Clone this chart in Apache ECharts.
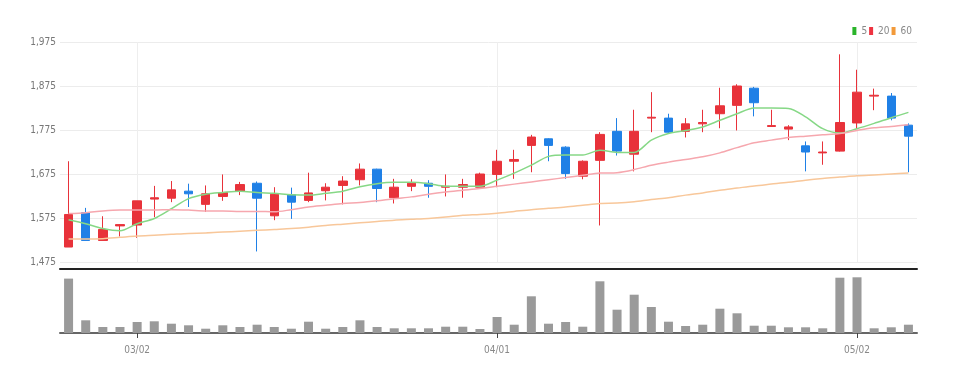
<!DOCTYPE html>
<html><head><meta charset="utf-8">
<script src="https://cdn.jsdelivr.net/npm/echarts@6/dist/echarts.min.js"></script>
<style>html,body{margin:0;padding:0;background:#fff}#c{width:954px;height:374px}</style>
</head><body><div id="c"></div>
<script>
const dates = ['02/23','02/24','02/25','02/28','03/02','03/03','03/04','03/07','03/08','03/10',
 '03/11','03/14','03/15','03/16','03/17','03/18','03/21','03/22','03/23','03/24',
 '03/25','03/28','03/29','03/30','03/31','04/01','04/04','04/05','04/06','04/07',
 '04/08','04/11','04/12','04/13','04/14','04/15','04/18','04/19','04/20','04/21',
 '04/22','04/25','04/26','04/27','04/28','04/29','05/02','05/03','05/04','05/06'];
const tickDates = ['03/02','04/01','05/02'];
// [open, close, low, high]
const ohlc = [
 [1509,1583,1509,1704],[1587,1524,1524,1598],[1524,1549,1524,1579],[1557,1560,1533,1561],[1559,1614,1530,1614],
 [1618,1621,1577,1648],[1620,1639,1611,1659],[1636,1630,1600,1653],[1606,1630,1589,1649],[1624,1633,1614,1674],
 [1636,1651,1627,1657],[1654,1620,1499,1658],[1580,1629,1570,1645],[1628,1611,1573,1644],[1615,1632,1611,1678],
 [1637,1645,1615,1654],[1649,1659,1606,1670],[1662,1686,1649,1699],[1686,1642,1611,1687],[1621,1645,1608,1664],
 [1647,1654,1636,1663],[1654,1647,1621,1661],[1645,1647,1624,1674],[1645,1651,1621,1664],[1645,1675,1645,1678],
 [1674,1704,1645,1730],[1704,1708,1664,1730],[1740,1759,1679,1764],[1755,1740,1704,1756],[1736,1676,1664,1738],
 [1670,1704,1663,1706],[1706,1765,1558,1770],[1772,1727,1717,1802],[1720,1772,1681,1821],[1802,1804,1770,1861],
 [1802,1770,1767,1812],[1772,1789,1758,1802],[1789,1792,1770,1821],[1812,1830,1779,1871],[1831,1875,1774,1879],
 [1870,1837,1806,1873],[1783,1785,1782,1821],[1777,1782,1752,1786],[1739,1725,1681,1749],[1723,1725,1696,1749],
 [1727,1792,1726,1947],[1791,1861,1778,1912],[1852,1854,1820,1869],[1852,1802,1797,1859],[1786,1761,1679,1790]
];
const ma5 = [1571,1562,1551,1546,1562,1574,1596,1619,1629,1633,1636,1633,1631,1628,1627,1631,1636,1646,1653,1656,
 1656,1653,1647,1647,1647,1661,1677,1695,1715,1718,1718,1729,1724,1724,1752,1767,1774,1782,1797,1812,
 1825,1825,1824,1805,1778,1768,1778,1790,1803,1815];
const ma20 = [1585,1587,1591,1593,1593,1593,1594,1593,1591,1591,1590,1590,1589,1594,1600,1604,1608,1610,1614,1619,
 1623,1629,1634,1638,1642,1647,1652,1657,1662,1667,1672,1677,1678,1685,1695,1702,1708,1714,1723,1735,
 1746,1752,1758,1761,1764,1767,1774,1780,1783,1787];
const ma60 = [1527,1527,1528,1531,1534,1536,1538,1540,1541,1543,1545,1547,1549,1551,1554,1558,1561,1564,1567,1570,
 1572,1574,1577,1581,1583,1586,1590,1594,1597,1600,1604,1608,1609,1612,1617,1621,1627,1632,1638,1643,
 1648,1652,1656,1661,1665,1668,1671,1673,1675,1677];
const volume = [544,127,60,60,110,117,93,77,43,77,60,83,60,43,113,43,60,127,60,47,
 47,47,63,63,40,160,83,367,93,110,63,517,233,383,260,113,70,83,243,197,
 73,73,57,57,47,553,557,47,57,83];
const yTicks = {min:1475, max:1975, step:100};

const FONT = "'DejaVu Sans Condensed','Liberation Sans Narrow',sans-serif";
const RED = '#e8323a', BLUE = '#1f80e6';
const isTick = (i) => tickDates.indexOf(dates[i]) >= 0;

const chart = echarts.init(document.getElementById('c'));
chart.setOption({
  animation: false,
  backgroundColor: '#fff',
  legend: {
    right: 37, top: 21, icon: 'rect', itemWidth: 4, itemHeight: 8, itemGap: 2,
    textStyle: {color: '#888', fontSize: 10, fontFamily: FONT},
    data: ['5','20','60']
  },
  grid: [
    {left: 60, right: 37, top: 42, height: 220},
    {left: 60, right: 37, top: 277, height: 56}
  ],
  xAxis: [
    {type: 'category', gridIndex: 0, data: dates, boundaryGap: true, offset: 7,
     axisLine: {show: true, lineStyle: {color: '#222', width: 2}},
     axisTick: {show: false, alignWithLabel: true}, axisLabel: {show: false},
     splitLine: {show: false}},
    {type: 'category', gridIndex: 1, data: dates, boundaryGap: true,
     axisLine: {show: true, lineStyle: {color: '#666', width: 2}},
     axisTick: {show: true, interval: (i) => isTick(i), alignWithLabel: true, length: 5, lineStyle: {color: '#444'}},
     axisLabel: {interval: (i) => isTick(i), color: '#888', fontSize: 10, fontFamily: FONT, margin: 12},
     splitLine: {show: false}}
  ],
  yAxis: [
    {type: 'value', gridIndex: 0, min: yTicks.min, max: yTicks.max, interval: yTicks.step, scale: true,
     axisLine: {show: false}, axisTick: {show: false},
     axisLabel: {color: '#777', fontSize: 10, fontFamily: FONT, margin: 4,
       formatter: (v) => v.toLocaleString('en-US')},
     splitLine: {show: true, lineStyle: {color: '#ececec', width: 1}}},
    {type: 'value', gridIndex: 1, min: 0, max: 560, show: false,
     splitLine: {show: false}}
  ],
  series: [
    {type: 'candlestick', name: 'price', xAxisIndex: 0, yAxisIndex: 0, data: ohlc, barWidth: 9,
     itemStyle: {color: RED, color0: BLUE, borderColor: RED, borderColor0: BLUE, borderWidth: 1},
     markLine: {silent: true, symbol: 'none', label: {show: false}, z: 1,
       lineStyle: {color: '#eeeeee', width: 1, type: 'solid'},
       emphasis: {disabled: true},
       data: tickDates.map(d => ({xAxis: d}))}},
    {type: 'line', name: '5', xAxisIndex: 0, yAxisIndex: 0, data: ma5, symbol: 'none', smooth: 0.3,
     itemStyle: {color: '#2ab42a'}, lineStyle: {color: '#86d886', width: 1.5}, z: 3},
    {type: 'line', name: '20', xAxisIndex: 0, yAxisIndex: 0, data: ma20, symbol: 'none', smooth: 0.3,
     itemStyle: {color: '#ee3340'}, lineStyle: {color: '#f6a7ae', width: 1.5}, z: 3},
    {type: 'line', name: '60', xAxisIndex: 0, yAxisIndex: 0, data: ma60, symbol: 'none', smooth: 0.3,
     itemStyle: {color: '#f29a3a'}, lineStyle: {color: '#f8c79a', width: 1.5}, z: 3},
    {type: 'bar', name: 'vol', xAxisIndex: 1, yAxisIndex: 1, data: volume, barWidth: 9,
     itemStyle: {color: '#9a9a9a'}}
  ]
});
</script></body></html>
